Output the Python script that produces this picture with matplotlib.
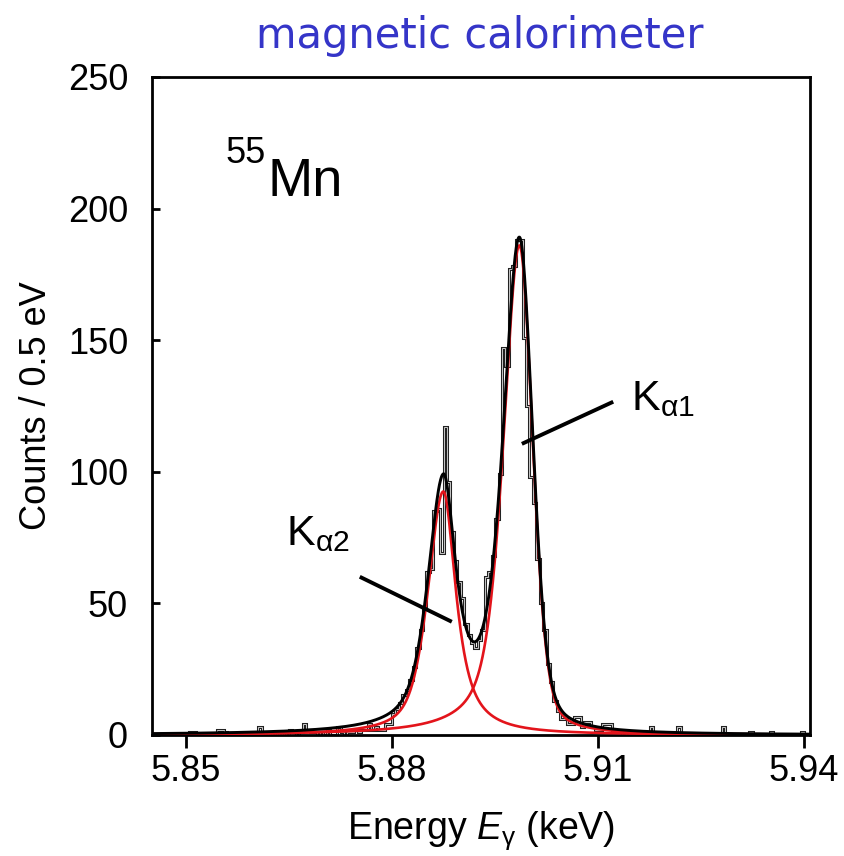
import numpy as np
import matplotlib
matplotlib.use('Agg')
import matplotlib.pyplot as plt

plt.rcParams['font.family'] = ['Liberation Sans', 'DejaVu Sans']
plt.rcParams['mathtext.fontset'] = 'custom'
plt.rcParams['mathtext.rm'] = 'Liberation Sans'
plt.rcParams['mathtext.it'] = 'Liberation Sans:italic'
plt.rcParams['mathtext.sf'] = 'Liberation Sans'

# histogram: 0.5 eV bins starting at 5.845 keV
bin_start = 5.845
bin_width = 0.0005
counts = [
    0, 0, 0, 0, 0, 0, 0, 0, 0, 0,
    0, 1, 1, 0, 0, 0, 0, 0, 0, 2,
    2, 1, 0, 0, 0, 0, 0, 0, 0, 1,
    1, 3, 1, 0, 1, 0, 1, 0, 1, 0,
    2, 1, 0, 1, 4, 2, 1, 1, 0, 1,
    0, 2, 0, 0, 3, 1, 0, 1, 1, 2,
    1, 2, 2, 4, 2, 3, 2, 2, 4, 4,
    8, 10, 12, 15, 17, 21, 26, 33, 40, 48,
    62, 63, 85, 86, 69, 117, 96, 77, 66, 58,
    52, 42, 38, 35, 33, 36, 40, 60, 62, 68,
    82, 99, 147, 140, 177, 178, 188, 188, 151, 125,
    98, 88, 67, 50, 40, 27, 20, 13, 9, 6,
    6, 4, 4, 7, 7, 3, 5, 5, 3, 2,
    2, 4, 4, 4, 2, 1, 1, 0, 1, 0,
    0, 1, 0, 0, 0, 3, 0, 0, 1, 0,
    0, 0, 0, 3, 0, 0, 0, 0, 0, 0,
    0, 0, 0, 0, 0, 0, 3, 0, 0, 0,
    0, 0, 0, 0, 1, 0, 0, 0, 0, 0,
    1, 0, 0, 0, 0, 0, 0, 0, 0, 1,
    0,
]

# fitted line components (asymmetric pseudo-Voigt), widths in eV
line_labels = [r'K$_{\mathrm{\alpha 1}}$', r'K$_{\mathrm{\alpha 2}}$']
line_centers = [5.89854, 5.88747]
line_heights = [186.0, 92.5]
hwhm_low = [2.8, 2.67]
hwhm_high = [2.3, 2.2]
lorentz_low = [0.6, 0.6]
lorentz_high = [0.31, 0.9]

# label / pointer positions (data coords)
label_pos = [(5.9148, 123.5), (5.8645, 72.2)]
pointer_lines = [((5.8989, 5.9122), (110.6, 126.6)),
                 ((5.8753, 5.8887), (60.1, 43.0))]


def line_shape(e, c, h, wl, wh, nl, nh):
    d = (e - c) * 1000.0
    w = np.where(d < 0, wl, wh)
    n = np.where(d < 0, nl, nh)
    u = (d / w) ** 2
    return h * (n / (1 + u) + (1 - n) * np.exp(-np.log(2) * u))


fig = plt.figure(figsize=(8.44, 8.56), dpi=100)
ax = fig.add_axes([0.1797, 0.1414, 0.7796, 0.7687])

edges = bin_start + bin_width * np.arange(len(counts) + 1)
ax.stairs(counts, edges, color='#222222', lw=2.2, zorder=2)
ax.stairs(counts, edges, color='#c8c8c8', lw=0.7, zorder=2.1)

e = np.linspace(5.845, 5.9408, 3000)
total = np.zeros_like(e)
for i in range(len(line_centers)):
    y = line_shape(e, line_centers[i], line_heights[i], hwhm_low[i],
                   hwhm_high[i], lorentz_low[i], lorentz_high[i])
    total += y
    ax.plot(e, y, color='#e3141b', lw=1.9, zorder=3)
ax.plot(e, total, color='black', lw=2.1, zorder=4)

for (xs, ys), lab, pos in zip(pointer_lines, line_labels, label_pos):
    ax.plot(xs, ys, color='black', lw=2.8, zorder=5, solid_capstyle='butt')
    ax.text(pos[0], pos[1], lab, fontsize=31, ha='left', va='baseline')

ax.text(5.8619, 204.8, 'Mn', fontsize=39, ha='left', va='baseline')
ax.text(5.8557, 217.3, '55', fontsize=26, ha='left', va='baseline')

ax.set_xlim(5.845, 5.9408)
ax.set_ylim(0, 250)
ax.set_xticks([5.85, 5.88, 5.91, 5.94])
ax.set_xticklabels(['5.85', '5.88', '5.91', '5.94'])
ax.set_yticks([0, 50, 100, 150, 200, 250])
ax.tick_params(axis='x', direction='out', length=9, width=2, labelsize=26, pad=5)
ax.tick_params(axis='y', direction='in', length=6, width=2, labelsize=26, pad=17)
for s in ax.spines.values():
    s.set_linewidth(2)

ax.set_xlabel(r'Energy $E_{\mathrm{\gamma}}$ (keV)', fontsize=27, labelpad=14)
ax.set_ylabel('Counts / 0.5 eV', fontsize=26, labelpad=10)

fig.text(0.569, 0.958, 'magnetic calorimeter', color='#3535c8',
         fontsize=30, ha='center', va='center', family='DejaVu Sans')

fig.savefig('out.png', dpi=100)
